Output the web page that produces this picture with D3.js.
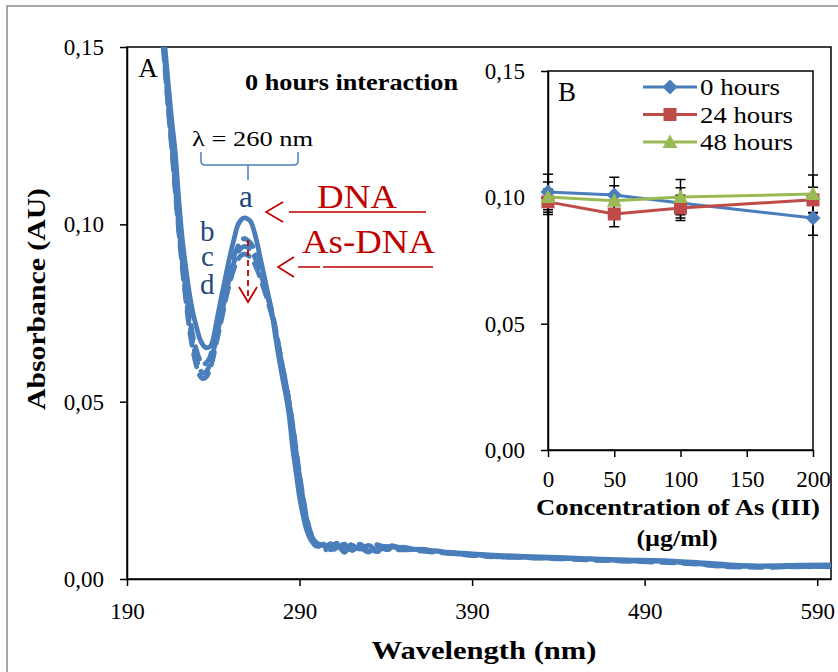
<!DOCTYPE html>
<html><head><meta charset="utf-8">
<script src="https://cdn.jsdelivr.net/npm/d3@7"></script>
<style>body{margin:0;background:#fff}svg{display:block}text{font-family:"Liberation Serif","Times New Roman",serif}</style>
</head><body><svg id="c" width="838" height="672"></svg>
<script>
// ---------- data: panel A (UV spectra) ----------
const wavelengths = [210,212,214,216,218,220,222,224,226,228,230,232,234,236,238,240,242,244,246,248,250,252,254,256,258,260,262,264,266,268,270,272,274,276,278,280,282,284,286,288,290,292,294,296,298,300,304,308,312,316,320,325,330,335,340,350,360,370,380,390,400,420,440,460,480,500,520,540,560,580,598];
const absDNA_a = [0.160,0.150,0.139,0.129,0.120,0.107,0.096,0.088,0.081,0.0755,0.0715,0.068,0.066,0.0652,0.0655,0.0678,0.0728,0.0778,0.0825,0.0873,0.0918,0.0958,0.0995,0.1012,0.1018,0.1015,0.1005,0.0975,0.0934,0.0888,0.0843,0.0797,0.0750,0.0685,0.0625,0.0570,0.0520,0.0460,0.0370,0.0300,0.0230,0.0180,0.0140,0.0115,0.0100,0.0092,
  0.0098,0.0082,0.0094,0.0078,0.0096,0.0084,0.0095,0.0080,0.0092,0.0086,0.0082,0.0078,0.0074,0.0071,0.0068,0.0064,0.0061,0.0057,0.0054,0.0052,0.0047,0.0040,0.0037,0.0039,0.0040];
const absAsDNA_b = [0.158,0.146,0.134,0.123,0.111,0.100,0.090,0.082,0.075,0.069,0.065,0.062,0.0605,0.061,0.0625,0.066,0.070,0.0745,0.079,0.0835,0.0875,0.091,0.0935,0.0953,0.0960,0.0955,0.0945,0.0925,0.0895,0.0862,0.0828,0.0792,0.0755,0.0708,0.0655,0.0600,0.0548,0.0492,0.0425,0.0352,0.0282,0.0220,0.0168,0.0132,0.0110,0.0098,
  0.0085,0.0100,0.0076,0.0092,0.0082,0.0098,0.0079,0.0093,0.0083,0.0090,0.0079,0.0075,0.0071,0.0068,0.0064,0.0060,0.0057,0.0054,0.0050,0.0047,0.0042,0.0034,0.0033,0.0035,0.0036];
const absAsDNA_c = [0.157,0.145,0.133,0.122,0.110,0.099,0.089,0.080,0.073,0.067,0.0625,0.0595,0.058,0.0585,0.0605,0.064,0.0685,0.073,0.0775,0.082,0.086,0.0893,0.0918,0.0932,0.0938,0.0935,0.0925,0.0908,0.0882,0.0852,0.0820,0.0786,0.0750,0.0705,0.0655,0.0602,0.0552,0.0497,0.0432,0.0360,0.0290,0.0226,0.0172,0.0135,0.0112,0.0100,
  0.0080,0.0093,0.0101,0.0075,0.0097,0.0089,0.0076,0.0097,0.0088,0.0082,0.0084,0.0077,0.0073,0.0066,0.0066,0.0062,0.0059,0.0053,0.0052,0.0049,0.0045,0.0038,0.0034,0.0037,0.0034];
const absAsDNA_d = [0.156,0.144,0.132,0.121,0.109,0.098,0.088,0.079,0.071,0.065,0.0605,0.0575,0.0565,0.057,0.059,0.0625,0.067,0.0715,0.076,0.0805,0.0843,0.0875,0.0898,0.0912,0.0916,0.0913,0.0903,0.0888,0.0865,0.0838,0.0808,0.0776,0.0742,0.0700,0.0652,0.0602,0.0554,0.0500,0.0437,0.0366,0.0296,0.0232,0.0177,0.0138,0.0114,0.0101,
  0.0094,0.0079,0.0090,0.0098,0.0080,0.0092,0.0087,0.0077,0.0096,0.0087,0.0083,0.0079,0.0070,0.0070,0.0063,0.0061,0.0058,0.0056,0.0051,0.0050,0.0043,0.0036,0.0036,0.0034,0.0039];
const mainXTicks = [190,290,390,490,590];
const mainYTicks = [0,0.05,0.10,0.15];
const curveLabels = ["a","b","c","d"];

// ---------- data: panel B (inset) ----------
const concentrations = [0,50,100,200];
const insetXTicks = [0,50,100,150,200];
const insetYTicks = [0,0.05,0.10,0.15];
const seriesNames = ["0 hours","24 hours","48 hours"];
const abs0h  = [0.1021,0.1009,0.0978,0.0918];
const abs24h = [0.0982,0.0934,0.0958,0.0990];
const abs48h = [0.1001,0.0986,0.1001,0.1013];
const err0h  = [0.007,0.007,0.006,0.0068];
const err24h = [0.005,0.005,0.005,0.005];
const err48h = [0.006,0.006,0.007,0.0075];

// ---------- drawing ----------
const svg = d3.select("#c");
const SERIF = '"Liberation Serif","Times New Roman",serif';
const fmt = d => d3.format(".2f")(d).replace(".", ",");
const BLUE = "#4a7ebb", DARKBLUE = "#1f497d", RED = "#c00000";

svg.append("rect").attr("x",7).attr("y",6).attr("width",860).attr("height",720)
  .attr("fill","#fff").attr("stroke","#8a8a8a").attr("stroke-width",1.5);

function txt(s, x, y, o = {}) {
  const t = svg.append("text").attr("x", x).attr("y", y).text(s)
    .attr("font-family", SERIF)
    .attr("font-size", o.size || 22).attr("fill", o.fill || "#000")
    .attr("text-anchor", o.anchor || "start");
  if (o.bold) t.attr("font-weight", "bold");
  if (o.len) t.attr("textLength", o.len).attr("lengthAdjust", "spacingAndGlyphs");
  if (o.dy) t.attr("dy", o.dy);
  if (o.rot) t.attr("transform", `rotate(${o.rot},${x},${y})`);
  return t;
}

// Main panel
const x = d3.scaleLinear().domain([190, 598]).range([127, 831]);
const y = d3.scaleLinear().domain([0, 0.15]).range([579, 47]);

function styleAxis(g, size) {
  g.attr("font-family", SERIF).attr("font-size", size).attr("color", "#000");
  g.selectAll("line,path").attr("stroke-width", 1.5);
}
svg.append("g").attr("transform", "translate(127,0)")
  .call(d3.axisLeft(y).tickValues(mainYTicks).tickFormat(fmt).tickSize(7).tickPadding(16).tickSizeOuter(0))
  .call(g => styleAxis(g, 23));
svg.append("g").attr("transform", "translate(0,579)")
  .call(d3.axisBottom(x).tickValues(mainXTicks).tickFormat(d3.format("d")).tickSize(7).tickPadding(17).tickSizeOuter(0))
  .call(g => styleAxis(g, 23));
svg.append("rect").attr("x",127).attr("y",47).attr("width",704).attr("height",532)
  .attr("fill","none").attr("stroke","#000").attr("stroke-width",1.5);

svg.append("clipPath").attr("id","clipA").append("rect")
  .attr("x",127).attr("y",47).attr("width",704).attr("height",532);
const line = d3.line().x((d, i) => x(wavelengths[i])).y(d => y(d)).curve(d3.curveMonotoneX);
const gc = svg.append("g").attr("clip-path","url(#clipA)");
[absAsDNA_d, absAsDNA_c, absAsDNA_b].forEach(s => {
  gc.append("path").attr("d", line(s)).attr("fill","none").attr("stroke",BLUE)
    .attr("stroke-width",4.8).attr("stroke-dasharray","13,9").attr("stroke-linecap","round");
});
gc.append("path").attr("d", line(absDNA_a)).attr("fill","none").attr("stroke",BLUE)
  .attr("stroke-width",4.8).attr("stroke-linejoin","round");

txt("Absorbance (AU)", 36, 299, {size:26, bold:true, anchor:"middle", len:222, rot:-90, dy:"0.35em"});
txt("Wavelength (nm)", 484, 650, {size:26, bold:true, anchor:"middle", len:225, dy:"0.35em"});
txt("A", 148, 68, {size:27, anchor:"middle", dy:"0.35em"});
txt("0 hours interaction", 245, 82, {size:24, bold:true, len:213, dy:"0.35em"});

// λ bracket
txt("λ = 260 nm", 192, 138, {size:22, len:121, dy:"0.35em"});
svg.append("path").attr("d","M201,152 V161 Q201,165 205,165 H294 Q298,165 298,161 V152 M248,165 V180")
  .attr("fill","none").attr("stroke",BLUE).attr("stroke-width",1.5);

// curve letters
txt(curveLabels[0], 246, 207, {size:31, fill:DARKBLUE, anchor:"middle"});
txt(curveLabels[1], 200, 241, {size:29, fill:DARKBLUE});
txt(curveLabels[2], 201, 266, {size:29, fill:DARKBLUE});
txt(curveLabels[3], 200, 294, {size:29, fill:DARKBLUE});

// red annotations
txt("DNA", 317, 208, {size:34, fill:RED, len:80});
txt("As-DNA", 302, 253, {size:34, fill:RED, len:133});
svg.append("path").attr("d","M283,202 L266,212 L283,222 M289,212 H426")
  .attr("fill","none").attr("stroke",RED).attr("stroke-width",1.6);
svg.append("path").attr("d","M294,257 L278,267 L294,277")
  .attr("fill","none").attr("stroke",RED).attr("stroke-width",1.6);
svg.append("path").attr("d","M298,267 H433")
  .attr("fill","none").attr("stroke",RED).attr("stroke-width",1.6).attr("stroke-dasharray","22,3,200");
svg.append("path").attr("d","M248,240 V301")
  .attr("fill","none").attr("stroke",RED).attr("stroke-width",1.8).attr("stroke-dasharray","6,4");
svg.append("path").attr("d","M239,287 L248,302 L257,287")
  .attr("fill","none").attr("stroke",RED).attr("stroke-width",1.8);

// Inset panel B
const xi = d3.scaleLinear().domain([0, 200]).range([548, 813]);
const yi = d3.scaleLinear().domain([0, 0.15]).range([450, 71]);
svg.append("g").attr("transform", "translate(548,0)")
  .call(d3.axisLeft(yi).tickValues(insetYTicks).tickFormat(fmt).tickSize(7).tickPadding(16).tickSizeOuter(0))
  .call(g => styleAxis(g, 23));
svg.append("g").attr("transform", "translate(0,450)")
  .call(d3.axisBottom(xi).tickValues(insetXTicks).tickFormat(d3.format("d")).tickSize(7).tickPadding(14).tickSizeOuter(0))
  .call(g => styleAxis(g, 23));
svg.append("rect").attr("x",548).attr("y",71).attr("width",265).attr("height",379)
  .attr("fill","none").attr("stroke","#000").attr("stroke-width",1.5);

txt("B", 567, 92, {size:27, anchor:"middle", dy:"0.35em"});
txt("Concentration of As (III)", 678, 507, {size:24, bold:true, anchor:"middle", len:284, dy:"0.35em"});
txt("(µg/ml)", 677, 538, {size:24, bold:true, anchor:"middle", len:81, dy:"0.35em"});

const series = [
  {name:seriesNames[0], vals:abs0h, errs:err0h, color:"#4a7ebb", shape:"diamond"},
  {name:seriesNames[1], vals:abs24h, errs:err24h, color:"#be4b48", shape:"square"},
  {name:seriesNames[2], vals:abs48h, errs:err48h, color:"#98b954", shape:"triangle"}
];
function marker(shape) {
  if (shape === "diamond") return "M0,-7.5 L7.5,0 L0,7.5 L-7.5,0 Z";
  if (shape === "square") return "M-6.5,-6.5 H6.5 V6.5 H-6.5 Z";
  return "M0,-7.5 L7.5,6 L-7.5,6 Z";
}
// error bars
series.forEach(s => {
  s.vals.forEach((v, i) => {
    const cx = xi(concentrations[i]), y1 = yi(v + s.errs[i]), y2 = yi(v - s.errs[i]);
    svg.append("path").attr("d", `M${cx},${y1} V${y2} M${cx-5},${y1} H${cx+5} M${cx-5},${y2} H${cx+5}`)
      .attr("stroke","#000").attr("stroke-width",1.5).attr("fill","none");
  });
});
const lineB = d3.line().x((d, i) => xi(concentrations[i])).y(d => yi(d));
series.forEach(s => {
  svg.append("path").attr("d", lineB(s.vals)).attr("fill","none").attr("stroke",s.color).attr("stroke-width",3);
  s.vals.forEach((v, i) => {
    svg.append("path").attr("d", marker(s.shape))
      .attr("transform", `translate(${xi(concentrations[i])},${yi(v)})`).attr("fill", s.color);
  });
});
// legend
series.forEach((s, i) => {
  const ly = 87 + i * 27.5;
  svg.append("line").attr("x1",643).attr("x2",697).attr("y1",ly).attr("y2",ly)
    .attr("stroke",s.color).attr("stroke-width",3);
  svg.append("path").attr("d", marker(s.shape)).attr("transform",`translate(670,${ly})`).attr("fill",s.color);
  txt(s.name, 700, ly, {size:23, dy:"0.35em", len: s.name.length === 7 ? 80 : 93});
});
</script></body></html>
